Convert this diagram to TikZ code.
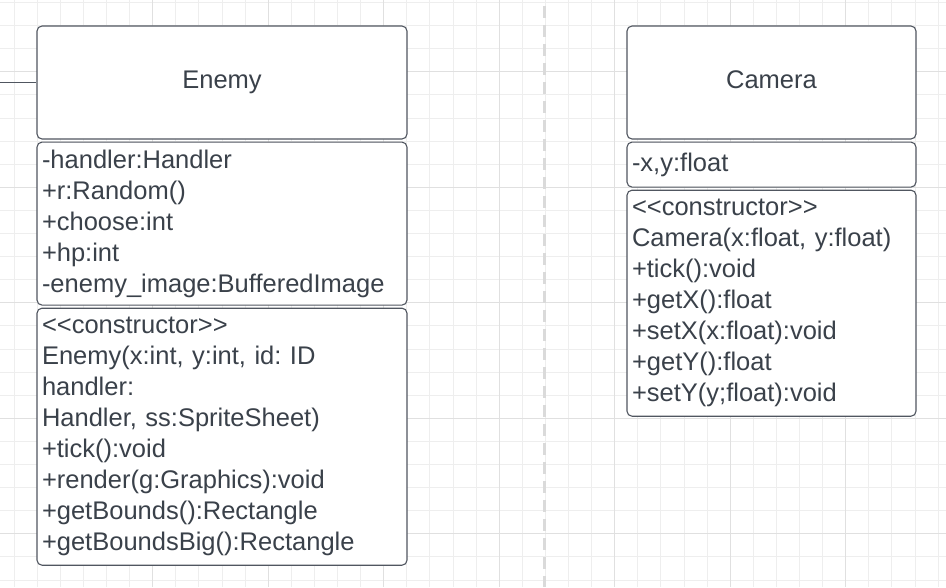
\documentclass[tikz,border=0pt]{standalone}
\usepackage{fontspec}
\setmainfont{Liberation Sans}
\usepackage{xcolor}
\usepackage{tikz}
\usetikzlibrary{positioning}
\definecolor{umlline}{RGB}{80,86,96}
\definecolor{umltext}{RGB}{58,65,74}
\definecolor{gridminor}{RGB}{238,238,238}
\definecolor{gridmajor}{RGB}{224,224,224}
\definecolor{dashgray}{RGB}{218,218,218}
\frenchspacing

\begin{document}
\begin{tikzpicture}[x=1pt, y=-1pt,
    umlbox/.style={draw=umlline, line width=1.1pt, rounded corners=5pt, fill=white, text=umltext,
        inner xsep=5pt, inner ysep=0pt, font=\fontsize{25.5}{31}\selectfont},
    titlebox/.style={umlbox, minimum height=113pt, align=center, text height=18pt, text depth=6pt},
    partbox/.style={umlbox, align=left, text width=#1}]
    \useasboundingbox (0,0) rectangle (946,587);
    \fill[white] (0,0) rectangle (946,587);
    \foreach \i in {0,...,40} {
        \draw[gridminor, line width=0.8pt] ({14+23.1*\i},0) -- ({14+23.1*\i},587);
    }
    \foreach \j in {0,...,25} {
        \draw[gridminor, line width=0.8pt] (0,{2.4+23.1*\j}) -- (946,{2.4+23.1*\j});
    }
    \foreach \i in {0,...,6} {
        \draw[gridmajor, line width=0.9pt] ({152.6+115.5*\i},0) -- ({152.6+115.5*\i},587);
    }
    \foreach \j in {0,...,4} {
        \draw[gridmajor, line width=0.9pt] (0,{71.7+115.5*\j}) -- (946,{71.7+115.5*\j});
    }
    \draw[dashgray, line width=3pt, dash pattern=on 12pt off 7pt] (544,6) -- (544,587);

    \node[titlebox, minimum width=370pt] (enemy) at (222,82.5) {Enemy};
    \node[partbox=360pt, minimum height=163pt, below=2pt of enemy] (enemyattr) {-handler:Handler\\+r:Random()\\+choose:int\\+hp:int\\-enemy\_image:BufferedImage};
    \node[partbox=360pt, minimum height=257pt, below=2pt of enemyattr] (enemyops) {<\kern0pt<constructor>\kern0pt>\\Enemy(x:int, y:int, id: ID\\handler:\\Handler, ss:SpriteSheet)\\+tick():void\\+render(g:Graphics):void\\+getBounds():Rectangle\\+getBoundsBig():Rectangle};

    \node[titlebox, minimum width=289pt] (camera) at (771.5,82.5) {Camera};
    \node[partbox=279pt, minimum height=45pt, below=2pt of camera] (cameraattr) {-x,y:float};
    \node[partbox=279pt, minimum height=226pt, below=2pt of cameraattr] (cameraops) {<\kern0pt<constructor>\kern0pt>\\Camera(x:float, y:float)\\+tick():void\\+getX():float\\+setX(x:float):void\\+getY():float\\+setY(y;float):void};

    \coordinate (linkend) at (0,82.5);
    \draw[umlline, line width=1.1pt] (linkend) -- (enemy.west);
\end{tikzpicture}
\end{document}
